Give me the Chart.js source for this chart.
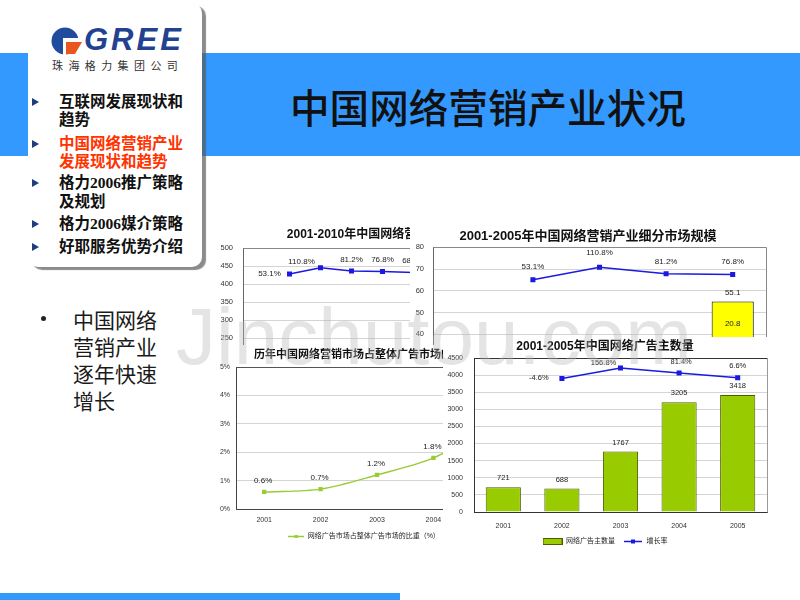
<!DOCTYPE html>
<html>
<head>
<meta charset="utf-8">
<script src="https://cdn.jsdelivr.net/npm/chart.js@4.4.1/dist/chart.umd.min.js"></script>
<style>
html,body{margin:0;padding:0;width:800px;height:600px;overflow:hidden;background:#fff;}
body{position:relative;font-family:"Noto Sans CJK SC","Liberation Sans",sans-serif;}
.abs{position:absolute;}
#band{left:0;top:53px;width:800px;height:103px;background:#3399FF;}
#panel{left:28px;top:3px;width:174px;height:264px;background:#fff;border-radius:10px;box-shadow:4px 3px 1px rgba(90,90,90,0.7);}
#gree{left:84px;top:22px;font-family:"Liberation Sans",sans-serif;font-weight:700;font-style:italic;font-size:31px;line-height:36px;color:#22428F;letter-spacing:3px;}
#co{left:52px;top:58px;font-size:11px;line-height:14px;color:#333;letter-spacing:5.4px;white-space:nowrap;}
.mi{left:59px;font-family:"Liberation Serif","Noto Sans CJK SC",serif;font-weight:700;font-size:15.5px;line-height:18px;white-space:nowrap;color:#111;}
.red{color:#FF3300;}
.tri{left:32px;width:0;height:0;border-left:7px solid #1F3D7A;border-top:4px solid transparent;border-bottom:4px solid transparent;}
#title{left:290px;top:86px;font-size:39.6px;line-height:40px;font-weight:500;color:#111;white-space:nowrap;}
#bullet{left:41px;top:316px;width:5px;height:5px;border-radius:50%;background:#222;}
#btxt{left:73px;top:306px;font-size:21px;line-height:27px;color:#1a1a1a;font-weight:400;white-space:nowrap;}
#bottombar{left:0;top:593px;width:400px;height:7px;background:#3399FF;}
.box{background:#fff;overflow:hidden;}
#boxA{left:210px;top:215px;width:200px;height:130px;z-index:1;}
#boxB{left:410px;top:215px;width:380px;height:220px;z-index:2;}
#boxC{left:210px;top:345px;width:316px;height:205px;z-index:3;}
#boxD{left:443px;top:337px;width:347px;height:218px;z-index:4;}
#wm{left:176px;top:297px;font-family:"Liberation Sans",sans-serif;font-size:80px;line-height:80px;color:rgba(185,185,185,0.38);z-index:10;white-space:nowrap;pointer-events:none;}
</style>
</head>
<body>
<div id="band" class="abs"></div>
<div id="panel" class="abs"></div>
<svg class="abs" style="left:51px;top:27px" width="32" height="28" viewBox="0 0 32 28">
  <circle cx="14" cy="14" r="13.5" fill="#1F4C9C"/>
  <rect x="12" y="11" width="20" height="4" fill="#fff"/>
  <polygon points="13,15 31,15 24,27 13,27" fill="#E9561E"/>
  <rect x="12" y="15" width="3" height="13" fill="#fff"/>
</svg>
<div id="gree" class="abs">GREE</div>
<div id="co" class="abs">珠海格力集团公司</div>

<div class="abs tri" style="top:98px"></div>
<div class="abs mi" style="top:93px">互联网发展现状和</div>
<div class="abs mi" style="top:111px">趋势</div>
<div class="abs tri" style="top:140px"></div>
<div class="abs mi red" style="top:135px">中国网络营销产业</div>
<div class="abs mi red" style="top:153px">发展现状和趋势</div>
<div class="abs tri" style="top:179px"></div>
<div class="abs mi" style="top:174px">格力2006推广策略</div>
<div class="abs mi" style="top:193px">及规划</div>
<div class="abs tri" style="top:220px"></div>
<div class="abs mi" style="top:215px">格力2006媒介策略</div>
<div class="abs tri" style="top:243px"></div>
<div class="abs mi" style="top:238px">好耶服务优势介绍</div>

<div id="title" class="abs">中国网络营销产业状况</div>
<div id="bullet" class="abs"></div>
<div id="btxt" class="abs">中国网络<br>营销产业<br>逐年快速<br>增长</div>

<div id="boxA" class="abs box"><canvas id="cA" width="360" height="228"></canvas></div>
<div id="boxB" class="abs box"><canvas id="cB" width="380" height="220"></canvas></div>
<div id="boxC" class="abs box"><canvas id="cC" width="316" height="205"></canvas></div>
<div id="boxD" class="abs box"><canvas id="cD" width="347" height="218"></canvas></div>

<div id="wm" class="abs">Jinchutou.com</div>
<div id="bottombar" class="abs"></div>

<script>
// ---------------- DATA ----------------
// Chart A: 2001-2010 (only the upper-left part is visible)
const yearsA = ['2001','2002','2003','2004','2005','2006','2007','2008','2009','2010'];
const growthA = [null, 53.1, 110.8, 81.2, 76.8, 68.2, null, null, null, null];

// Chart B: 2001-2005年中国网络营销产业细分市场规模
const yearsB = ['2001','2002','2003','2004','2005'];
const totalB = [null, null, null, null, 55.1];
const netAdB = [null, null, null, null, 20.8];
const growthB = [null, 53.1, 110.8, 81.2, 76.8];

// Chart C: 历年中国网络营销市场占整体广告市场的比重
const yearsC = ['2001','2002','2003','2004','2005'];
const shareC = [0.6, 0.7, 1.2, 1.8, 2.9];

// Chart D: 2001-2005年中国网络广告主数量
const yearsD = ['2001','2002','2003','2004','2005'];
const advertisersD = [721, 688, 1767, 3205, 3418];
const growthD = [null, -4.6, 156.8, 81.4, 6.6];

// ---------------- STYLE ----------------
const BLUE = '#1a1ae0';
const GREEN = '#99CC00';
const LGREEN = '#99CC33';
const GRID = '#d4d4d4';
const TXT = '#333';

Chart.defaults.font.family = '"Liberation Sans","Noto Sans CJK SC",sans-serif';
Chart.defaults.color = TXT;

const fmtPct = v => (v == null ? null : v.toFixed(1) + '%');
const fmt1 = v => (v == null ? null : v.toFixed(1));
const plain = v => String(v);
const baseB = totalB.map((t, i) => (t == null ? null : +(t - netAdB[i]).toFixed(1)));

const framePlugin = {
  id: 'frame',
  beforeDatasetsDraw(chart, args, o) {
    const {left, top, right, bottom} = chart.chartArea;
    const ctx = chart.ctx;
    ctx.save();
    ctx.lineWidth = 1;
    const L = Math.round(left) + 0.5, T = Math.round(top) + 0.5, R = Math.round(right) + 0.5, B = Math.round(bottom) + 0.5;
    if (o.top) { ctx.strokeStyle = o.top; ctx.beginPath(); ctx.moveTo(L, T); ctx.lineTo(R, T); ctx.stroke(); }
    if (o.right) { ctx.strokeStyle = o.right; ctx.beginPath(); ctx.moveTo(R, T); ctx.lineTo(R, B); ctx.stroke(); }
    ctx.restore();
  }
};

const labelPlugin = {
  id: 'pointLabels',
  afterDatasetsDraw(chart, args, o) {
    const ctx = chart.ctx;
    (o.items || []).forEach(it => {
      const meta = chart.getDatasetMeta(it.dataset);
      ctx.save();
      ctx.font = (it.size || 8) + 'px "Liberation Sans","Noto Sans CJK SC",sans-serif';
      ctx.fillStyle = it.color || '#222';
      ctx.textAlign = 'center';
      ctx.textBaseline = 'middle';
      meta.data.forEach((el, i) => {
        const t = it.texts[i];
        if (t == null) return;
        const dx = Array.isArray(it.dx) ? (it.dx[i] || 0) : (it.dx || 0);
        const dy = Array.isArray(it.dy) ? (it.dy[i] || 0) : (it.dy || 0);
        const y = it.anchor === 'center' ? (el.y + el.base) / 2 : el.y;
        ctx.fillText(t, el.x + dx, y + dy);
      });
      ctx.restore();
    });
  }
};

function swatchBar(w, h, fill, stroke) {
  const c = document.createElement('canvas'); c.width = w; c.height = h;
  const g = c.getContext('2d');
  g.fillStyle = fill; g.fillRect(0, 0, w, h);
  g.strokeStyle = stroke; g.lineWidth = 1; g.strokeRect(0.5, 0.5, w - 1, h - 1);
  return c;
}
function swatchLine(w, h, color, m) {
  const c = document.createElement('canvas'); c.width = w; c.height = h;
  const g = c.getContext('2d');
  g.strokeStyle = color; g.lineWidth = 1.5;
  g.beginPath(); g.moveTo(0, h / 2); g.lineTo(w, h / 2); g.stroke();
  g.fillStyle = color; g.fillRect(w / 2 - m / 2, h / 2 - m / 2, m, m);
  return c;
}
function legendWith(swatches) {
  return function (chart) {
    const items = Chart.defaults.plugins.legend.labels.generateLabels(chart);
    items.forEach(it => { it.pointStyle = swatches[it.datasetIndex]; });
    return items;
  };
}
const byIndex = (a, b) => a.datasetIndex - b.datasetIndex;

const common = {responsive: false, animation: false, devicePixelRatio: window.devicePixelRatio || 1};

// ---------------- CHART A ----------------
new Chart(document.getElementById('cA'), {
  type: 'line',
  data: {labels: yearsA, datasets: [{
    label: '增长率', data: growthA, yAxisID: 'y1',
    borderColor: BLUE, backgroundColor: BLUE, borderWidth: 1.5,
    pointStyle: 'rect', pointRadius: 2.5, tension: 0
  }]},
  options: Object.assign({}, common, {
    layout: {padding: {left: 0, right: 17, top: 0, bottom: 0}},
    plugins: {
      legend: {display: false}, tooltip: {enabled: false},
      title: {display: true, text: '2001-2010年中国网络营销产业规模', color: '#111',
        font: {size: 12, weight: 'bold'}, padding: {top: 12.8, bottom: 5.8}},
      frame: {top: '#888', right: '#888'},
      pointLabels: {items: [{dataset: 0, texts: growthA.map(fmtPct), size: 8,
        dx: [0, -20, -19, 0, 0, 0], dy: [0, 0, -6, -11, -12, -12]}]}
    },
    scales: {
      x: {display: false, offset: true},
      y: {min: 0, max: 500, ticks: {stepSize: 50, padding: 10, font: {size: 7.5}, color: TXT, callback: plain},
        grid: {color: GRID, drawTicks: false}, border: {display: true, color: '#666'},
        afterFit: s => { s.width = 33; }},
      y1: {display: false, min: -1358, max: 291}
    }
  }),
  plugins: [framePlugin, labelPlugin]
});

// ---------------- CHART B ----------------
new Chart(document.getElementById('cB'), {
  type: 'bar',
  data: {labels: yearsB, datasets: [
    {type: 'line', label: '增长率', data: growthB, yAxisID: 'y1', order: 0,
      borderColor: BLUE, backgroundColor: BLUE, borderWidth: 1.5, pointStyle: 'rect', pointRadius: 2.5, tension: 0},
    {label: '其他', data: baseB, yAxisID: 'y', stack: 's', order: 1,
      backgroundColor: '#6f93c9', borderColor: '#000', borderWidth: 1, barPercentage: 0.79, categoryPercentage: 0.8},
    {label: '网络广告', data: netAdB, yAxisID: 'y', stack: 's', order: 2,
      backgroundColor: '#FFFF00', borderColor: '#000', borderWidth: 1, barPercentage: 0.79, categoryPercentage: 0.8}
  ]},
  options: Object.assign({}, common, {
    layout: {padding: {left: 0, right: 24, top: 0, bottom: 0}},
    plugins: {
      legend: {display: false}, tooltip: {enabled: false},
      title: {display: true, text: '2001-2005年中国网络营销产业细分市场规模', color: '#111',
        font: {size: 13, weight: 'bold'}, padding: {top: 13.2, bottom: 3.5}},
      frame: {top: '#888', right: '#888'},
      pointLabels: {items: [
        {dataset: 0, texts: growthB.map(fmtPct), size: 8, dy: [0, -13, -14, -12, -13]},
        {dataset: 2, texts: totalB.map(fmt1), size: 8, dy: -9},
        {dataset: 2, texts: netAdB.map(fmt1), size: 8, anchor: 'center'}
      ]}
    },
    scales: {
      x: {display: false, stacked: true},
      y: {stacked: true, min: 0, max: 80, ticks: {stepSize: 10, padding: 9, font: {size: 7.5}, color: TXT, callback: plain},
        grid: {color: GRID, drawTicks: false}, border: {display: true, color: '#666'},
        afterFit: s => { s.width = 23; }},
      y1: {display: false, min: -603.5, max: 203.2}
    }
  }),
  plugins: [framePlugin, labelPlugin]
});

// ---------------- CHART C ----------------
new Chart(document.getElementById('cC'), {
  type: 'line',
  data: {labels: yearsC, datasets: [{
    label: '网络广告市场占整体广告市场的比重（%）', data: shareC,
    borderColor: LGREEN, backgroundColor: LGREEN, borderWidth: 1.5,
    pointStyle: 'rect', pointRadius: 2, tension: 0.3
  }]},
  options: Object.assign({}, common, {
    layout: {padding: {left: 0, right: 8, top: 0, bottom: 0}},
    plugins: {
      tooltip: {enabled: false},
      title: {display: true, text: '历年中国网络营销市场占整体广告市场的比重', color: '#111',
        font: {size: 11, weight: 'bold'}, padding: {top: 3.4, bottom: 5.4}},
      legend: {position: 'bottom', labels: {font: {size: 7}, color: '#222', padding: 8,
        usePointStyle: true, pointStyleWidth: 16, generateLabels: legendWith([swatchLine(16, 7, LGREEN, 3)])}},
      frame: {top: '#555'},
      pointLabels: {items: [{dataset: 0, texts: shareC.map(fmtPct), size: 8, dx: -1, dy: -11}]}
    },
    scales: {
      x: {offset: true, grid: {display: false, drawTicks: false}, border: {display: true, color: '#444'},
        ticks: {padding: 7, font: {size: 7}, color: TXT}, afterFit: s => { s.height = 16; }},
      y: {min: 0, max: 5, ticks: {stepSize: 1, padding: 6, font: {size: 7}, color: TXT, callback: v => v + '%'},
        grid: {color: GRID, drawTicks: false}, border: {display: true, color: '#444'},
        afterFit: s => { s.width = 26; }}
    }
  }),
  plugins: [framePlugin, labelPlugin]
});

// ---------------- CHART D ----------------
new Chart(document.getElementById('cD'), {
  type: 'bar',
  data: {labels: yearsD, datasets: [
    {label: '网络广告主数量', data: advertisersD, yAxisID: 'y', order: 1,
      backgroundColor: GREEN, borderColor: '#4d5e00', borderWidth: 1, barPercentage: 0.75, categoryPercentage: 0.8},
    {type: 'line', label: '增长率', data: growthD, yAxisID: 'y1', order: 0,
      borderColor: BLUE, backgroundColor: BLUE, borderWidth: 1.5, pointStyle: 'rect', pointRadius: 2.5, tension: 0}
  ]},
  options: Object.assign({}, common, {
    layout: {padding: {left: 0, right: 23, top: 0, bottom: 0}},
    plugins: {
      tooltip: {enabled: false},
      title: {display: true, text: '2001-2005年中国网络广告主数量', color: '#111',
        font: {size: 12, weight: 'bold'}, padding: {top: 2.5, bottom: 4.1}},
      legend: {position: 'bottom', labels: {font: {size: 7}, color: '#222', padding: 8, sort: byIndex,
        usePointStyle: true, pointStyleWidth: 20,
        generateLabels: legendWith([swatchBar(20, 7, GREEN, '#4d5e00'), swatchLine(18, 7, BLUE, 4)])}},
      frame: {top: '#333', right: '#999'},
      pointLabels: {items: [
        {dataset: 0, texts: advertisersD.map(plain), size: 7.5, dy: -9},
        {dataset: 1, texts: growthD.map(fmtPct), size: 7.5, dx: [0, -23, -17, 2, 0], dy: [0, 0, -5, -11, -12]}
      ]}
    },
    scales: {
      x: {grid: {display: false, drawTicks: false}, border: {display: true, color: '#333'},
        ticks: {padding: 10, font: {size: 7}, color: TXT}, afterFit: s => { s.height = 18; }},
      y: {min: 0, max: 4500, ticks: {stepSize: 500, padding: 11, font: {size: 7}, color: TXT, callback: plain},
        grid: {color: GRID, drawTicks: false}, border: {display: true, color: '#333'},
        afterFit: s => { s.width = 31; }},
      y1: {display: false, min: -2084, max: 313.5}
    }
  }),
  plugins: [framePlugin, labelPlugin]
});
</script>
</body>
</html>
